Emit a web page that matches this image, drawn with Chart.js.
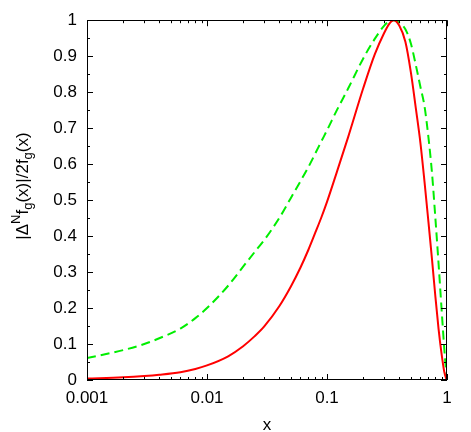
<!DOCTYPE html>
<html>
<head>
<meta charset="UTF-8">
<script src="https://cdn.jsdelivr.net/npm/chart.js"></script>
<style>
  body { margin: 0; background: #fff; }
</style>
</head>
<body>
<canvas id="c" width="471" height="432"></canvas>
<script>
// values
const xValues = [0.001, 0.002, 0.003, 0.004, 0.006, 0.008,
  0.01, 0.015, 0.02, 0.025, 0.03, 0.04, 0.05, 0.06, 0.07, 0.08, 0.09,
  0.1, 0.12, 0.15, 0.2, 0.25, 0.3, 0.33, 0.36, 0.4, 0.45,
  0.5, 0.55, 0.6, 0.65, 0.7, 0.75, 0.8, 0.85, 0.9, 0.95, 0.98, 1];
const redValues = [0.004, 0.0075, 0.011, 0.0145, 0.0215, 0.0305,
  0.0405, 0.066, 0.094, 0.122, 0.149, 0.205, 0.26, 0.312, 0.362, 0.41, 0.453,
  0.495, 0.575, 0.675, 0.81, 0.905, 0.965, 0.99, 1.0, 0.985, 0.94,
  0.855, 0.755, 0.66, 0.55, 0.44, 0.335, 0.232, 0.143, 0.074, 0.022, 0.006, 0];
const greenValues = [0.061, 0.083, 0.1, 0.116, 0.143, 0.172,
  0.2, 0.262, 0.315, 0.356, 0.389, 0.45, 0.506, 0.552, 0.592, 0.63, 0.664,
  0.694, 0.748, 0.81, 0.893, 0.948, 0.985, 0.997, 1.0, 0.993, 0.975,
  0.935, 0.875, 0.815, 0.76, 0.675, 0.575, 0.45, 0.325, 0.2, 0.085, 0.03, 0];
const xTickLabels = [0.001, 0.01, 0.1, 1];
const yTickLabels = [0, 0.1, 0.2, 0.3, 0.4, 0.5, 0.6, 0.7, 0.8, 0.9, 1];

const FONT = '"Liberation Sans", Arial, sans-serif';

function pts(ys) {
  return xValues.map((x, i) => ({ x: x, y: ys[i] }));
}
function xLabel(v) {
  const t = xTickLabels.find(t => Math.abs(Math.log10(v) - Math.log10(t)) < 1e-6);
  return t === undefined ? '' : String(t);
}
function yLabel(v) {
  const t = yTickLabels.find(t => Math.abs(v - t) < 1e-6);
  return t === undefined ? '' : String(t);
}

// inward ticks on all four sides + frame + y title
const framePlugin = {
  id: 'frame',
  afterDraw(chart) {
    const ctx = chart.ctx, a = chart.chartArea;
    const xs = chart.scales.x, ys = chart.scales.y;
    ctx.save();
    ctx.strokeStyle = '#000';
    ctx.lineWidth = 1;
    ctx.beginPath();
    xs.ticks.forEach(t => {
      const p = Math.round(xs.getPixelForValue(t.value)) + 0.5;
      const len = xLabel(t.value) ? 6 : 3;
      ctx.moveTo(p, a.bottom); ctx.lineTo(p, a.bottom - len);
      ctx.moveTo(p, a.top); ctx.lineTo(p, a.top + len);
    });
    ys.ticks.forEach(t => {
      const p = Math.round(ys.getPixelForValue(t.value)) + 0.5;
      const len = yLabel(t.value) ? 6 : 3;
      ctx.moveTo(a.left, p); ctx.lineTo(a.left + len, p);
      ctx.moveTo(a.right, p); ctx.lineTo(a.right - len, p);
    });
    ctx.stroke();
    ctx.strokeRect(Math.round(a.left) + 0.5, Math.round(a.top) + 0.5,
      Math.round(a.right - a.left) - 1, Math.round(a.bottom - a.top) - 1);

    const parts = [
      ['|\u0394', 0], ['N', 1], ['f', 0], ['g', -1], ['(x)|/2f', 0], ['g', -1], ['(x)', 0]
    ];
    const big = 17, small = 13;
    let total = 0;
    parts.forEach(p => {
      ctx.font = (p[1] ? small : big) + 'px ' + FONT;
      p.push(ctx.measureText(p[0]).width);
      total += p[2];
    });
    ctx.translate(28, 186);
    ctx.rotate(-Math.PI / 2);
    ctx.fillStyle = '#000';
    ctx.textBaseline = 'alphabetic';
    let cx = -total / 2;
    parts.forEach(p => {
      ctx.font = (p[1] ? small : big) + 'px ' + FONT;
      const dy = p[1] === 1 ? -8 : (p[1] === -1 ? 4 : 0);
      ctx.fillText(p[0], cx, dy);
      cx += p[2];
    });
    ctx.restore();
  }
};

new Chart(document.getElementById('c'), {
  type: 'line',
  data: {
    datasets: [
      {
        data: pts(redValues),
        borderColor: '#ff0000',
        borderWidth: 2,
        pointRadius: 0,
        cubicInterpolationMode: 'monotone',
        fill: false
      },
      {
        data: pts(greenValues),
        borderColor: '#00ee00',
        borderWidth: 2,
        borderDash: [9, 5],
        pointRadius: 0,
        cubicInterpolationMode: 'monotone',
        fill: false
      }
    ]
  },
  options: {
    responsive: false,
    animation: false,
    devicePixelRatio: 1,
    layout: { padding: { top: 20, right: 24, left: 0, bottom: 0 } },
    plugins: { legend: { display: false }, tooltip: { enabled: false } },
    scales: {
      x: {
        type: 'logarithmic',
        min: 0.001,
        max: 1,
        grid: { display: false, drawTicks: false, tickLength: 0 },
        border: { display: false },
        afterBuildTicks(scale) {
          const ticks = [];
          [0.001, 0.01, 0.1].forEach(d => {
            for (let k = 1; k < 10; k++) ticks.push({ value: d * k });
          });
          ticks.push({ value: 1 });
          scale.ticks = ticks;
        },
        afterFit(scale) { scale.height = 52; },
        ticks: {
          autoSkip: false,
          maxRotation: 0,
          padding: 8,
          color: '#000',
          font: { family: FONT, size: 17 },
          callback: v => xLabel(v)
        },
        title: {
          display: true,
          text: 'x',
          color: '#000',
          font: { family: FONT, size: 17, lineHeight: 0.8 },
          padding: { top: 0, bottom: 0 }
        }
      },
      y: {
        min: 0,
        max: 1,
        grid: { display: false, drawTicks: false, tickLength: 0 },
        border: { display: false },
        afterFit(scale) { scale.width = 87; },
        ticks: {
          stepSize: 0.05,
          autoSkip: false,
          padding: 10,
          color: '#000',
          font: { family: FONT, size: 17 },
          callback: v => yLabel(v)
        }
      }
    }
  },
  plugins: [framePlugin]
});
</script>
</body>
</html>
